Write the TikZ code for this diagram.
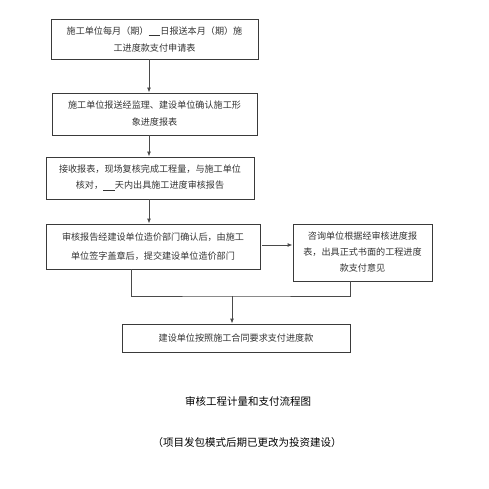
\documentclass[tikz,border=0pt]{standalone}
\usepackage{fontspec}
\newfontfamily\cjk{Noto Sans CJK SC}
\usetikzlibrary{arrows.meta}
\definecolor{boxline}{HTML}{3A3A3A}
\definecolor{wireline}{HTML}{4A4A4A}
\definecolor{boxtext}{HTML}{333333}
\tikzset{
  procbox/.style={draw=boxline,line width=.9pt,align=center,inner sep=0pt,text=boxtext,
    font=\cjk\fontsize{9.1}{17}\selectfont},
  wire/.style={draw=wireline,line width=.9pt},
  flow/.style={wire,-{Latex[length=5pt,width=4pt]}}
}
\newcommand{\blankline}{\underline{\hspace{1.3em}}}
\begin{document}
\begin{tikzpicture}[x=1pt,y=-1pt]
\useasboundingbox (0,0) rectangle (489,489);
\node[procbox,minimum width=207pt,minimum height=40pt] (apply) at (154.5,39)
  {施工单位每月（期）\blankline 日报送本月（期）施\\工进度款支付申请表};
\node[procbox,minimum width=205pt,minimum height=42pt] (confirm) at (154.5,114)
  {施工单位报送经监理、建设单位确认施工形\\象进度报表};
\node[procbox,minimum width=208pt,minimum height=42pt,font=\cjk\fontsize{9.1}{16}\selectfont] (check) at (150,178)
  {接收报表，现场复核完成工程量，与施工单位\\核对，\blankline 天内出具施工进度审核报告};
\node[procbox,minimum width=214pt,minimum height=45pt,font=\cjk\fontsize{9.1}{19}\selectfont] (sign) at (153,246.5)
  {审核报告经建设单位造价部门确认后，由施工\\单位签字盖章后，提交建设单位造价部门};
\node[procbox,minimum width=139pt,minimum height=57pt,font=\cjk\fontsize{9.1}{16}\selectfont] (advice) at (362.5,252.5)
  {咨询单位根据经审核进度报\\表，出具正式书面的工程进度\\款支付意见};
\node[procbox,minimum width=228pt,minimum height=28pt] (pay) at (236,338)
  {建设单位按照施工合同要求支付进度款};
\coordinate (join) at (232,296);
% flow down the left column
\draw[flow] ([xshift=-5.5pt]apply.south) -- ([xshift=-5.5pt]confirm.north);
\draw[flow] ([xshift=-5.5pt]confirm.south) -- ([xshift=-1pt]check.north);
\draw[flow] ([xshift=-1pt]check.south) -- ([xshift=-4pt]sign.north);
\draw[flow] ([xshift=2pt,yshift=1.5pt]sign.east) -- ([yshift=1.5pt]sign.east -| advice.west);
% merge into the payment box
\draw[wire] ([xshift=-22pt]sign.south) |- (join) -| ([xshift=-12.5pt]advice.south);
\draw[flow] (join) -- (join|-pay.north);
\node[font=\cjk\fontsize{10.5}{12}\selectfont] (title) at (248,401) {审核工程计量和支付流程图};
\node[font=\cjk\fontsize{10.5}{12}\selectfont] (remark) at (247,443) {（项目发包模式后期已更改为投资建设）};
\end{tikzpicture}
\end{document}
